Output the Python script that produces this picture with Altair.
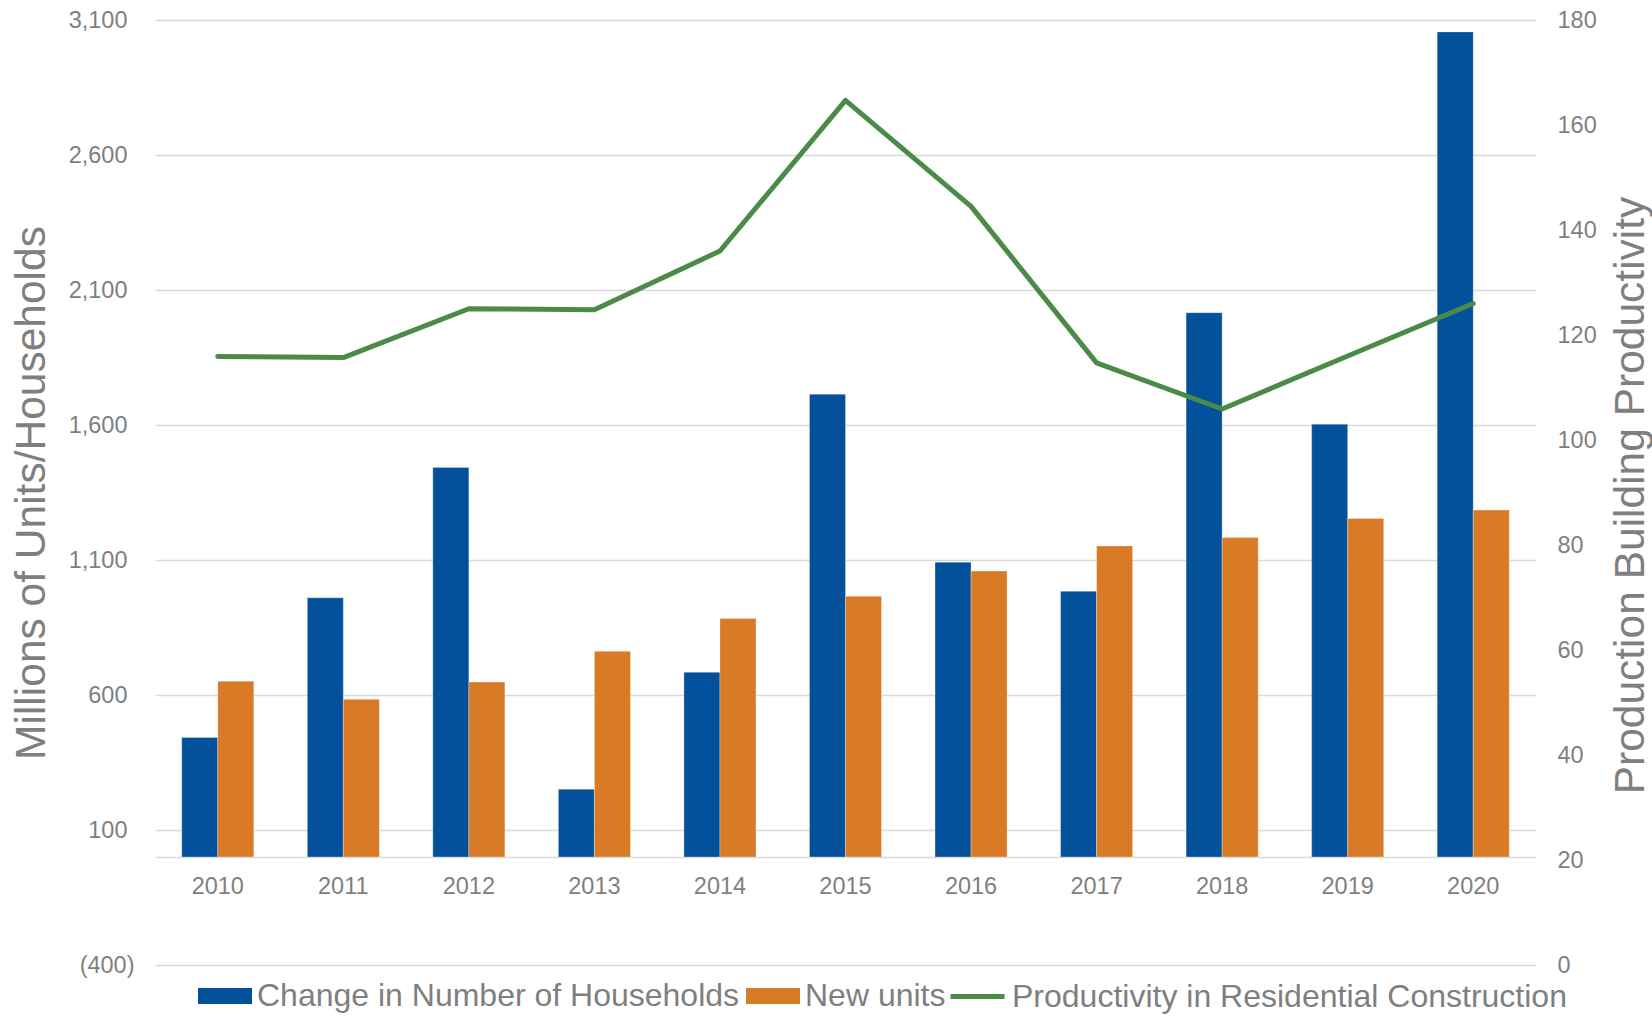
import altair as alt
import pandas as pd

years = ["2010", "2011", "2012", "2013", "2014", "2015", "2016", "2017", "2018", "2019", "2020"]
households = [443, 960, 1443, 251, 684, 1714, 1092, 984, 2016, 1603, 3056]
new_units = [651, 584, 648, 762, 883, 966, 1059, 1152, 1183, 1254, 1285]
productivity = [115.9, 115.7, 125.0, 124.8, 136.0, 164.7, 144.5, 114.7, 105.9, 116.0, 126.0]

bar_series = ["Change in Number of Households", "New units"]
bar_colors = ["#03519A", "#D97A26"]
line_series = ["Productivity in Residential Construction"]
line_colors = ["#4B8B48"]
left_ticks = [-400, 100, 600, 1100, 1600, 2100, 2600, 3100]
right_ticks = [0, 20, 40, 60, 80, 100, 120, 140, 160, 180]

bars_df = pd.DataFrame({
    "year": years * 2,
    "series": [bar_series[0]] * len(years) + [bar_series[1]] * len(years),
    "value": households + new_units,
})
line_df = pd.DataFrame({
    "year": years,
    "series": [line_series[0]] * len(years),
    "value": productivity,
})

GRAY = "#7f7f7f"
GRID = "#d9d9d9"
FONT = "Liberation Sans"

bar_legend = alt.Legend(
    orient="none", legendX=43, legendY=949, direction="horizontal", title=None,
    labelFontSize=32, labelColor=GRAY, labelFont=FONT, labelLimit=1000,
    symbolSize=2916, symbolType="M-1,-0.296H1V0.296H-1Z", symbolStrokeWidth=0,
    labelOffset=5, columnPadding=6,
)
line_legend = alt.Legend(
    orient="none", legendX=793, legendY=947, direction="horizontal", title=None,
    labelFontSize=32, labelColor=GRAY, labelFont=FONT, labelLimit=1000,
    symbolSize=2916, symbolType="stroke", symbolStrokeWidth=5,
    labelOffset=5,
)

x_enc = alt.X(
    "year:N", sort=years,
    scale=alt.Scale(paddingInner=0.426, paddingOuter=0.213),
    axis=alt.Axis(title=None, orient="bottom", offset=-108, domain=True, domainColor=GRID, domainWidth=1.5,
                  ticks=False, labelFontSize=23.5, labelPadding=17, labelAngle=0,
                  labelColor=GRAY, labelFont=FONT, grid=False),
)

bars = alt.Chart(bars_df).mark_bar(stroke="#ffffff", strokeWidth=0.6, strokeOpacity=0.5).encode(
    x=x_enc,
    xOffset=alt.XOffset("series:N", sort=bar_series, scale=alt.Scale(paddingInner=0, paddingOuter=0)),
    y=alt.Y(
        "value:Q", stack=None,
        scale=alt.Scale(domain=[-400, 3100], nice=False),
        axis=alt.Axis(
            values=left_ticks,
            labelExpr="datum.value < 0 ? '(' + format(-datum.value, ',') + ')' : format(datum.value, ',')",
            labelPadding={"condition": {"test": "datum.value < 0", "value": 21}, "value": 28},
            grid=True, gridColor=GRID, gridWidth=1.5, domain=False, ticks=False,
            labelFontSize=23.5, labelColor=GRAY, labelFont=FONT,
            title="Millions of Units/Households", titleX=-111, titleY=472.5, titleAngle=-90,
            titleAlign="center", titleBaseline="alphabetic", titleFontSize=42.5,
            titleFontWeight="normal", titleColor=GRAY, titleFont=FONT,
        ),
    ),
    color=alt.Color("series:N", scale=alt.Scale(domain=bar_series, range=bar_colors), legend=bar_legend),
)

line = alt.Chart(line_df).mark_line(strokeWidth=5, strokeCap="round", strokeJoin="round").encode(
    x=alt.X("year:N", sort=years),
    y=alt.Y(
        "value:Q",
        scale=alt.Scale(domain=[0, 180], nice=False),
        axis=alt.Axis(
            orient="right", values=right_ticks, grid=False, domain=False, ticks=False,
            labelPadding=21, labelFontSize=23.5, labelColor=GRAY, labelFont=FONT,
            title="Production Building Productivity", titleX=107, titleY=475, titleAngle=-90,
            titleAlign="center", titleBaseline="alphabetic", titleFontSize=42.5,
            titleFontWeight="normal", titleColor=GRAY, titleFont=FONT,
        ),
    ),
    stroke=alt.Stroke("series:N", scale=alt.Scale(domain=line_series, range=line_colors), legend=line_legend),
)

chart = (
    alt.layer(bars, line)
    .resolve_scale(y="independent")
    .properties(
        width=1381, height=945,
        autosize=alt.AutoSizeParams(type="none"),
        padding={"left": 155, "top": 20, "right": 116, "bottom": 51},
    )
    .configure(font=FONT)
    .configure_view(strokeWidth=0, stroke="transparent", fill="transparent")
    .configure_axisY(domain=False, ticks=False)
    .configure_axisLeft(domain=False)
    .configure_axisRight(domain=False)
)

chart.save("out.html", embed_options={"renderer": "svg", "actions": False})
